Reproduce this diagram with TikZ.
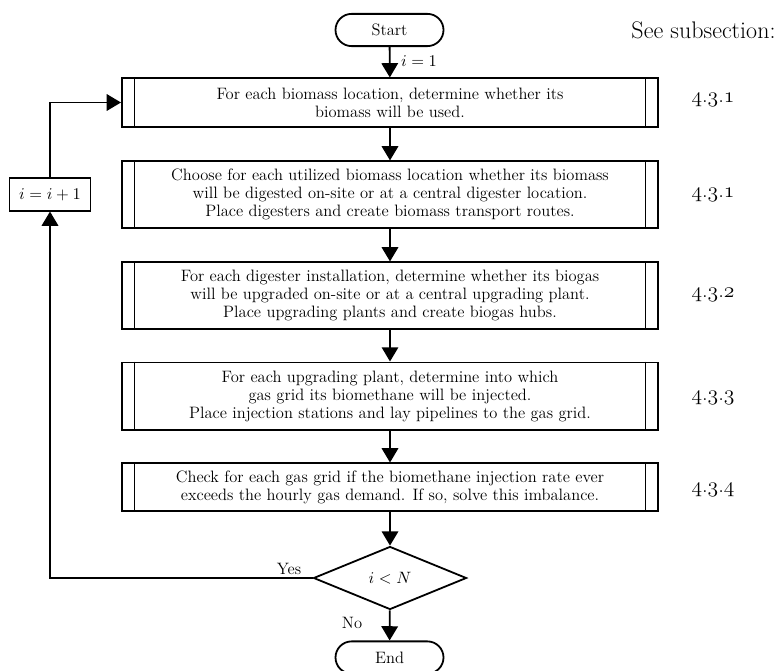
\documentclass[tikz,border=0pt]{standalone}
\usetikzlibrary{shapes.geometric,shapes.misc,arrows.meta}
\newcommand{\secnum}[3]{\legacyoldstylenums{#1}.\legacyoldstylenums{#2}.\legacyoldstylenums{#3}}
\tikzset{
  px/.style={x=0.66667pt,y=-0.66667pt},
  flowline/.style={line width=1.2pt},
  arr/.style={flowline,-{Triangle[width=11pt,length=9.5pt]}},
  txt/.style={font=\fontsize{11}{12}\selectfont},
  terminal/.style={draw,flowline,rounded rectangle,minimum width=72pt,
    minimum height=21.5pt,inner sep=0pt,txt},
  procbox/.style={draw,flowline,rectangle,minimum width=357.5pt,align=center,
    inner sep=0pt,txt,
    append after command={\pgfextra{\draw[flowline]
      ([xshift=9pt]\tikzlastnode.north west) -- ([xshift=9pt]\tikzlastnode.south west)
      ([xshift=-9pt]\tikzlastnode.north east) -- ([xshift=-9pt]\tikzlastnode.south east);}}},
  decision/.style={draw,flowline,diamond,minimum width=102pt,minimum height=42pt,
    inner sep=0pt,txt},
  counter/.style={draw,flowline,rectangle,minimum width=54pt,minimum height=21.5pt,
    inner sep=0pt,txt},
  lbl/.style={txt,inner sep=0pt},
  refnum/.style={font=\fontsize{15}{17}\selectfont,inner sep=0pt},
  refhead/.style={font=\fontsize{16}{18}\selectfont,inner sep=0pt},
}
\begin{document}
\begin{tikzpicture}[px]
\useasboundingbox (0,0) rectangle (778,670);

% terminals and steps
\node[terminal] (start) at (389.5,30) {Start};
\node[procbox,minimum height=32.2pt] (s1) at (390,102.5)
  {For each biomass location, determine whether its\\biomass will be used.};
\node[procbox,minimum height=44.2pt] (s2) at (390,194.5)
  {Choose for each utilized biomass location whether its biomass\\will be digested on-site or at a central digester location.\\Place digesters and create biomass transport routes.};
\node[procbox,minimum height=44.2pt] (s3) at (390,295.5)
  {For each digester installation, determine whether its biogas\\will be upgraded on-site or at a central upgrading plant.\\Place upgrading plants and create biogas hubs.};
\node[procbox,minimum height=44.8pt] (s4) at (390,396)
  {For each upgrading plant, determine into which\\gas grid its biomethane will be injected.\\Place injection stations and lay pipelines to the gas grid.};
\node[procbox,minimum height=31.5pt] (s5) at (390,487)
  {Check for each gas grid if the biomethane injection rate ever\\exceeds the hourly gas demand. If so, solve this imbalance.};
\node[decision] (test) at (390,578) {$i<N$};
\node[terminal] (end) at (389.5,657.5) {End};
\node[counter] (inc) at (50,194.5) {$i=i+1$};

% loop corners
\coordinate (cb) at (50,578);
\coordinate (ct) at (50,102.5);

% main flow
\draw[arr] (start) -- (s1);
\draw[arr] (s1) -- (s2);
\draw[arr] (s2) -- (s3);
\draw[arr] (s3) -- (s4);
\draw[arr] (s4) -- (s5);
\draw[arr] (s5) -- (test);
\draw[arr] (test) -- (end);

% feedback loop
\draw[arr] (test.west) -- (cb) -- (inc.south);
\draw[arr] (inc.north) -- (ct) -- (s1.west);

% labels
\node[lbl] (init) at (419,61) {$i=1$};
\node[lbl] (yes) at (289,569) {Yes};
\node[lbl] (no) at (352,623) {No};

% subsection references
\node[refhead] (see) at (703.5,30) {See subsection:};
\node[refnum] (r1) at (713,100) {\secnum{4}{3}{1}};
\node[refnum] (r2) at (713,195) {\secnum{4}{3}{1}};
\node[refnum] (r3) at (713,295) {\secnum{4}{3}{2}};
\node[refnum] (r4) at (713,398) {\secnum{4}{3}{3}};
\node[refnum] (r5) at (713,490) {\secnum{4}{3}{4}};
\end{tikzpicture}
\end{document}
